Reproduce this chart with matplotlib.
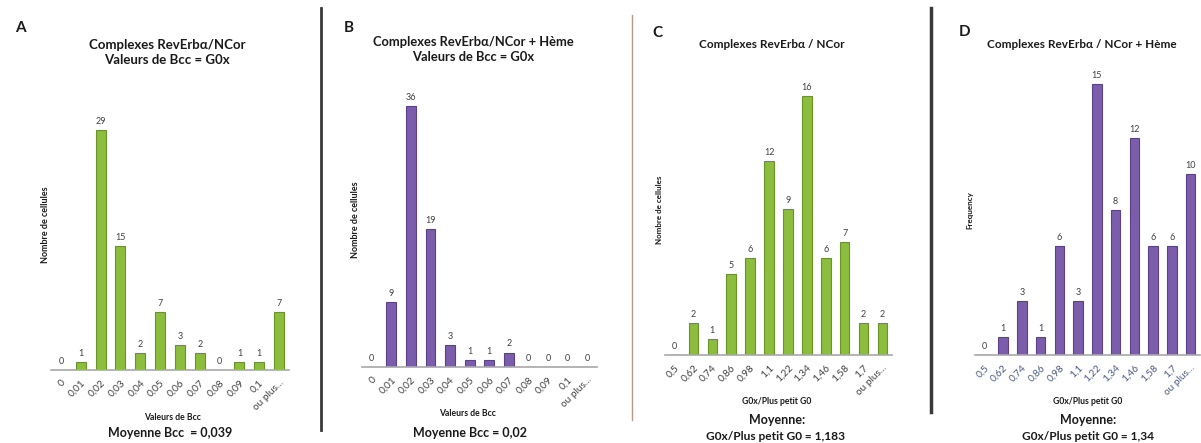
import matplotlib
matplotlib.use("Agg")
import matplotlib.pyplot as plt

W, H = 1201, 443

bcc_cats = ['0', '0,01', '0,02', '0,03', '0,04', '0,05', '0,06', '0,07',
            '0,08', '0,09', '0,1', 'ou plus...']
ratio_cats = ['0,5', '0,62', '0,74', '0,86', '0,98', '1,1', '1,22', '1,34',
              '1,46', '1,58', '1,7', 'ou plus...']

a_vals = [0, 1, 29, 15, 2, 7, 3, 2, 0, 1, 1, 7]
b_vals = [0, 9, 36, 19, 3, 1, 1, 2, 0, 0, 0, 0]
c_vals = [0, 2, 1, 5, 6, 12, 9, 16, 6, 7, 2, 2]
d_vals = [0, 1, 3, 1, 6, 3, 15, 8, 12, 6, 6, 10]

GREEN, GREEN_EDGE = "#8cbd3c", "#6a9428"
PURPLE, PURPLE_EDGE = "#7b5dab", "#5b418c"

plt.rcParams['font.family'] = ['Lato', 'DejaVu Sans']

fig = plt.figure(figsize=(W / 100, H / 100), dpi=100)
fig.patch.set_facecolor("white")


def fx(x):
    return x / W


def fy(y):
    return 1 - y / H


def panel(x0, x1, base, top, ppu, cats, vals, color, edge, tick_color):
    ax = fig.add_axes([fx(x0), fy(base), fx(x1 - x0), (base - top) / H])
    xs = range(len(vals))
    ax.bar(xs, vals, width=0.5, color=color, edgecolor=edge, linewidth=0.8)
    ax.set_xlim(-0.5, len(vals) - 0.5)
    ax.set_ylim(0, (base - top) / ppu)
    for x, v in zip(xs, vals):
        ax.text(x, v + 4 / ppu, str(v), ha='center', va='bottom',
                fontsize=6.5, color="#404040")
    ax.set_xticks(list(xs))
    ax.set_xticklabels(cats, rotation=45, ha='right', rotation_mode='anchor',
                       fontsize=7.3, color=tick_color)
    ax.tick_params(axis='x', length=0, pad=6)
    ax.set_yticks([])
    for s in ('top', 'right', 'left'):
        ax.spines[s].set_visible(False)
    ax.spines['bottom'].set_color("#a8a8a8")
    ax.spines['bottom'].set_linewidth(1.2)
    ax.patch.set_alpha(0)
    return ax


def txt(x, y, s, size, weight='bold', rot=0, color="#1a1a1a"):
    fig.text(fx(x), fy(y), s, fontsize=size, fontweight=weight, rotation=rot,
             ha='center', va='center', color=color)


def vline(x, y0, y1, color, lw):
    fig.add_artist(plt.Line2D([fx(x), fx(x)], [fy(y0), fy(y1)],
                              transform=fig.transFigure, color=color, lw=lw))


# A
panel(51, 289, 370, 100, 8.28, bcc_cats, a_vals, GREEN, GREEN_EDGE, "#404040")
txt(20, 28, "A", 11)
txt(167, 45, "Complexes RevErbα/NCor", 9.5)
txt(167, 60, "Valeurs de Bcc = G0x", 9.5)
txt(46, 225, "Nombre de cellules", 6.5, rot=90)
txt(172, 417, "Valeurs de Bcc", 6.2)
txt(170, 433, "Moyenne Bcc  = 0,039", 9)

# B
vline(321, 8, 430, "#3a3a3a", 2)
panel(362, 597, 367, 90, 7.25, bcc_cats, b_vals, PURPLE, PURPLE_EDGE, "#404040")
txt(349, 28, "B", 11)
txt(473, 42, "Complexes RevErbα/NCor + Hème", 9.3)
txt(473, 57, "Valeurs de Bcc = G0x", 9.3)
txt(356, 220, "Nombre de cellules", 6.5, rot=90)
txt(467, 413, "Valeurs de Bcc", 6.2)
txt(470, 433, "Moyenne Bcc = 0,02", 9)

# C
vline(632, 15, 420, "#b89a88", 1)
panel(665, 892, 355, 80, 16.2, ratio_cats, c_vals, GREEN, GREEN_EDGE, "#404040")
txt(657, 33, "C", 11)
txt(772, 45, "Complexes RevErbα / NCor", 8.5)
txt(660, 210, "Nombre de cellules", 5.8, rot=90)
txt(777, 402, "G0x/Plus petit G0", 6.2)
txt(777, 420, "Moyenne:", 9)
txt(775, 437, "G0x/Plus petit G0 = 1,183", 8.6)

# D
vline(931, 8, 412, "#3a3a3a", 2.5)
panel(975, 1200, 355, 70, 18.1, ratio_cats, d_vals, PURPLE, PURPLE_EDGE, "#4a5a80")
txt(965, 32, "D", 11)
txt(1082, 45, "Complexes RevErbα / NCor + Hème", 8.5)
txt(970, 210, "Frequency", 5.8, rot=90)
txt(1088, 402, "G0x/Plus petit G0", 6.2)
txt(1088, 420, "Moyenne:", 9)
txt(1088, 437, "G0x/Plus petit G0 = 1,34", 8.6)

fig.savefig("out.png", dpi=100, facecolor="white")
